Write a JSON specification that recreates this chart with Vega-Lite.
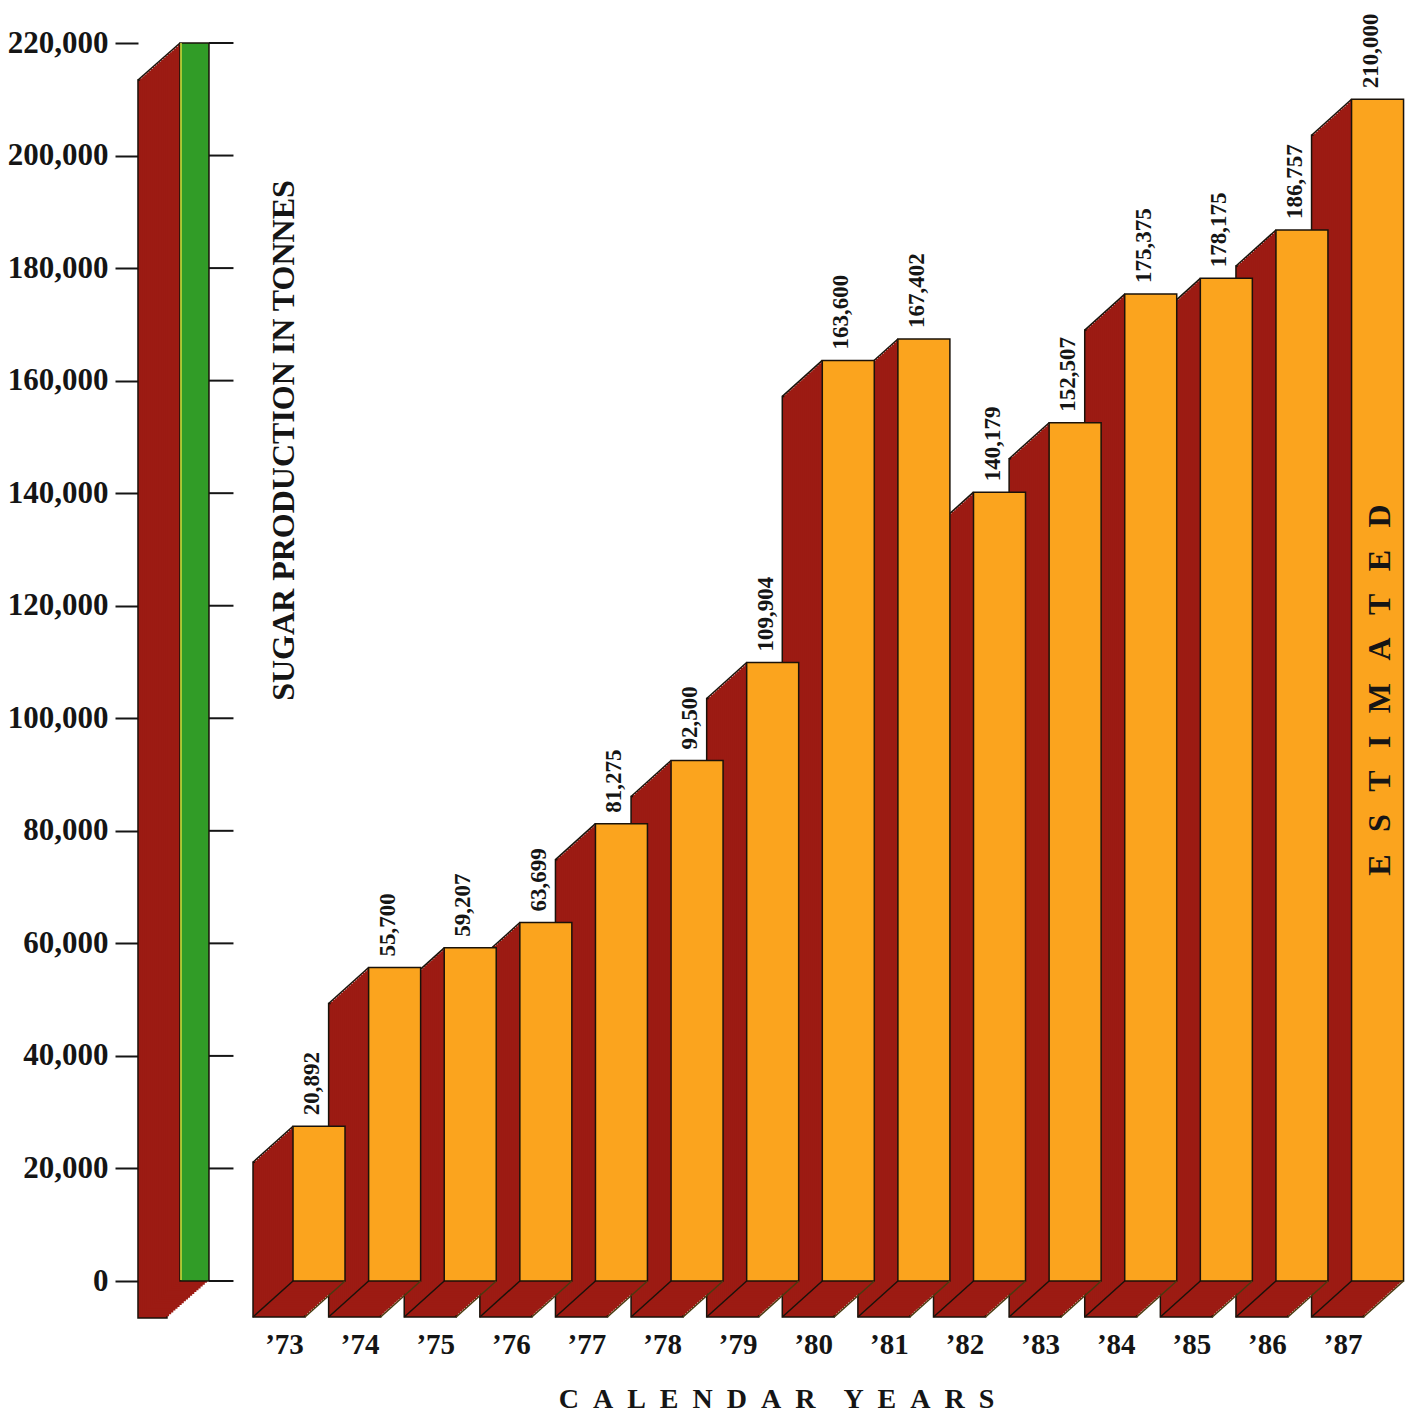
{
"$schema": "https://vega.github.io/schema/vega-lite/v6.json",
"width": 1276, "height": 1238,
"autosize": {"type": "none"},
"padding": {"left": 138, "top": 43, "right": 0, "bottom": 133},
"background": "white",
"config": {"view": {"stroke": null}, "font": "Liberation Serif"},
"datasets": {
 "bars": [
  {"year": 1973, "tonnes": 20892, "bar": 27500},
  {"year": 1974, "tonnes": 55700, "bar": 55700},
  {"year": 1975, "tonnes": 59207, "bar": 59207},
  {"year": 1976, "tonnes": 63699, "bar": 63699},
  {"year": 1977, "tonnes": 81275, "bar": 81275},
  {"year": 1978, "tonnes": 92500, "bar": 92500},
  {"year": 1979, "tonnes": 109904, "bar": 109904},
  {"year": 1980, "tonnes": 163600, "bar": 163600},
  {"year": 1981, "tonnes": 167402, "bar": 167402},
  {"year": 1982, "tonnes": 140179, "bar": 140179},
  {"year": 1983, "tonnes": 152507, "bar": 152507},
  {"year": 1984, "tonnes": 175375, "bar": 175375},
  {"year": 1985, "tonnes": 178175, "bar": 178175},
  {"year": 1986, "tonnes": 186757, "bar": 186757},
  {"year": 1987, "tonnes": 210000, "bar": 210000}
 ],
 "pillar": [{"top": 220000}],
 "ticks": [{"v": 0}, {"v": 20000}, {"v": 40000}, {"v": 60000}, {"v": 80000}, {"v": 100000}, {"v": 120000}, {"v": 140000}, {"v": 160000}, {"v": 180000}, {"v": 200000}, {"v": 220000}]
},
"layer": [
 {
  "data": {"name": "pillar"},
  "encoding": {
   "x": {"datum": 1971.353, "type": "quantitative", "scale": {"domain": [1970.606, 1987.482], "nice": false, "zero": false},
         "axis": {"values": [1973,1974,1975,1976,1977,1978,1979,1980,1981,1982,1983,1984,1985,1986,1987], "labelExpr": "'’' + slice(format(datum.value, 'd'), 2)",
                  "labelFont": "Liberation Serif", "labelFontSize": 29, "labelFontWeight": "bold", "labelColor": "#151515", "labelBaseline": "alphabetic", "labelAlign": "center",
                  "labelPadding": 72, "labelOffset": -35, "ticks": false, "tickSize": 0, "domain": false, "grid": false, "labelFlush": false, "labelOverlap": false,
                  "title": "C\u2002A\u2002L\u2002E\u2002N\u2002D\u2002A\u2002R\u2002\u2002Y\u2002E\u2002A\u2002R\u2002S", "titleFont": "Liberation Serif", "titleFontSize": 28, "titleFontWeight": "bold", "titleColor": "#151515", "titleY": 126, "titleBaseline": "alphabetic"}},
   "y": {"field": "top", "type": "quantitative", "scale": {"domain": [0, 220000], "nice": false, "zero": true},
         "axis": {"orient": "left", "values": [0,20000,40000,60000,80000,100000,120000,140000,160000,180000,200000,220000], "labelExpr": "format(datum.value, ',')",
                  "labelFont": "Liberation Serif", "labelFontSize": 31, "labelFontWeight": "bold", "labelColor": "#151515", "labelPadding": 7,
                  "tickSize": 23, "tickWidth": 2, "tickColor": "#151515", "domain": false, "grid": false, "labelFlush": false,
                  "title": "SUGAR PRODUCTION IN TONNES", "titleFont": "Liberation Serif", "titleFontSize": 32, "titleFontWeight": "bold", "titleColor": "#151515",
                  "titleX": 155, "titleY": 397, "titleAngle": 270, "titleAlign": "center", "titleBaseline": "alphabetic"}}
  },
  "layer": [
   {
    "encoding": {"x2": {"datum": 1971.353}, "y2": {"datum": 0}},
    "layer": [
     {"mark": {"type": "rect", "fill": "#9c1b13", "stroke": "#1a120a", "strokeWidth": 1.5, "xOffset": -56.5, "x2Offset": -27.5, "yOffset": 37, "y2Offset": 37}},
     {"mark": {"type": "rect", "fill": "#9c1b13", "xOffset": -54.4, "x2Offset": -25.4, "yOffset": 35.15, "y2Offset": 35.15}},
     {"mark": {"type": "rect", "fill": "#9c1b13", "xOffset": -52.3, "x2Offset": -23.3, "yOffset": 33.3, "y2Offset": 33.3}},
     {"mark": {"type": "rect", "fill": "#9c1b13", "xOffset": -50.2, "x2Offset": -21.2, "yOffset": 31.45, "y2Offset": 31.45}},
     {"mark": {"type": "rect", "fill": "#9c1b13", "xOffset": -48.1, "x2Offset": -19.1, "yOffset": 29.6, "y2Offset": 29.6}},
     {"mark": {"type": "rect", "fill": "#9c1b13", "xOffset": -46, "x2Offset": -17, "yOffset": 27.75, "y2Offset": 27.75}},
     {"mark": {"type": "rect", "fill": "#9c1b13", "xOffset": -43.9, "x2Offset": -14.9, "yOffset": 25.9, "y2Offset": 25.9}},
     {"mark": {"type": "rect", "fill": "#9c1b13", "xOffset": -41.8, "x2Offset": -12.8, "yOffset": 24.05, "y2Offset": 24.05}},
     {"mark": {"type": "rect", "fill": "#9c1b13", "xOffset": -39.7, "x2Offset": -10.7, "yOffset": 22.2, "y2Offset": 22.2}},
     {"mark": {"type": "rect", "fill": "#9c1b13", "xOffset": -37.6, "x2Offset": -8.6, "yOffset": 20.35, "y2Offset": 20.35}},
     {"mark": {"type": "rect", "fill": "#9c1b13", "xOffset": -35.5, "x2Offset": -6.5, "yOffset": 18.5, "y2Offset": 18.5}},
     {"mark": {"type": "rect", "fill": "#9c1b13", "xOffset": -33.4, "x2Offset": -4.4, "yOffset": 16.65, "y2Offset": 16.65}},
     {"mark": {"type": "rect", "fill": "#9c1b13", "xOffset": -31.3, "x2Offset": -2.3, "yOffset": 14.8, "y2Offset": 14.8}},
     {"mark": {"type": "rect", "fill": "#9c1b13", "xOffset": -29.2, "x2Offset": -0.2, "yOffset": 12.95, "y2Offset": 12.95}},
     {"mark": {"type": "rect", "fill": "#9c1b13", "xOffset": -27.1, "x2Offset": 1.9, "yOffset": 11.1, "y2Offset": 11.1}},
     {"mark": {"type": "rect", "fill": "#9c1b13", "xOffset": -25, "x2Offset": 4, "yOffset": 9.25, "y2Offset": 9.25}},
     {"mark": {"type": "rect", "fill": "#9c1b13", "xOffset": -22.9, "x2Offset": 6.1, "yOffset": 7.4, "y2Offset": 7.4}},
     {"mark": {"type": "rect", "fill": "#9c1b13", "xOffset": -20.8, "x2Offset": 8.2, "yOffset": 5.55, "y2Offset": 5.55}},
     {"mark": {"type": "rect", "fill": "#9c1b13", "xOffset": -18.7, "x2Offset": 10.3, "yOffset": 3.7, "y2Offset": 3.7}},
     {"mark": {"type": "rect", "fill": "#9c1b13", "xOffset": -16.6, "x2Offset": 12.4, "yOffset": 1.85, "y2Offset": 1.85}}
    ]
   },
   {"mark": {"type": "rule", "color": "#1a120a", "strokeWidth": 1.5, "xOffset": -14.5, "x2Offset": -56.5, "y2Offset": 37},
    "encoding": {"x2": {"datum": 1971.353}, "y2": {"field": "top"}}},
   {"mark": {"type": "rect", "fill": "#319c27", "stroke": "#1a120a", "strokeWidth": 1.5, "xOffset": -14.5, "x2Offset": 14.5},
    "encoding": {"x2": {"datum": 1971.353}, "y2": {"datum": 0}}},
   {"mark": {"type": "rule", "color": "#d8dc3c", "strokeWidth": 1.5, "xOffset": -13.5, "x2Offset": -13.5, "y2Offset": -1},
    "encoding": {"x2": {"datum": 1971.353}, "y2": {"datum": 0}}}
  ]
 },
 {
  "data": {"name": "bars"},
  "encoding": {
   "x": {"field": "year", "type": "quantitative", "scale": {"domain": [1970.606, 1987.482], "nice": false, "zero": false},
         "axis": {"values": [1973,1974,1975,1976,1977,1978,1979,1980,1981,1982,1983,1984,1985,1986,1987], "labelExpr": "'’' + slice(format(datum.value, 'd'), 2)",
                  "labelFont": "Liberation Serif", "labelFontSize": 29, "labelFontWeight": "bold", "labelColor": "#151515", "labelBaseline": "alphabetic", "labelAlign": "center",
                  "labelPadding": 72, "labelOffset": -35, "ticks": false, "tickSize": 0, "domain": false, "grid": false, "labelFlush": false, "labelOverlap": false,
                  "title": "C\u2002A\u2002L\u2002E\u2002N\u2002D\u2002A\u2002R\u2002\u2002Y\u2002E\u2002A\u2002R\u2002S", "titleFont": "Liberation Serif", "titleFontSize": 28, "titleFontWeight": "bold", "titleColor": "#151515", "titleY": 126, "titleBaseline": "alphabetic"}},
   "y": {"field": "bar", "type": "quantitative", "scale": {"domain": [0, 220000], "nice": false, "zero": true},
         "axis": {"orient": "left", "values": [0,20000,40000,60000,80000,100000,120000,140000,160000,180000,200000,220000], "labelExpr": "format(datum.value, ',')",
                  "labelFont": "Liberation Serif", "labelFontSize": 31, "labelFontWeight": "bold", "labelColor": "#151515", "labelPadding": 7,
                  "tickSize": 23, "tickWidth": 2, "tickColor": "#151515", "domain": false, "grid": false, "labelFlush": false,
                  "title": "SUGAR PRODUCTION IN TONNES", "titleFont": "Liberation Serif", "titleFontSize": 32, "titleFontWeight": "bold", "titleColor": "#151515",
                  "titleX": 155, "titleY": 397, "titleAngle": 270, "titleAlign": "center", "titleBaseline": "alphabetic"}}
  },
  "layer": [
   {
    "encoding": {"x2": {"field": "year"}, "y2": {"datum": 0}},
    "layer": [
     {"mark": {"type": "rect", "fill": "#9c1b13", "stroke": "#1a120a", "strokeWidth": 1.5, "xOffset": -66, "x2Offset": -14, "yOffset": 36, "y2Offset": 36}},
     {"mark": {"type": "rect", "fill": "#9c1b13", "xOffset": -64, "x2Offset": -12, "yOffset": 34.2, "y2Offset": 34.2}},
     {"mark": {"type": "rect", "fill": "#9c1b13", "xOffset": -62, "x2Offset": -10, "yOffset": 32.4, "y2Offset": 32.4}},
     {"mark": {"type": "rect", "fill": "#9c1b13", "xOffset": -60, "x2Offset": -8, "yOffset": 30.6, "y2Offset": 30.6}},
     {"mark": {"type": "rect", "fill": "#9c1b13", "xOffset": -58, "x2Offset": -6, "yOffset": 28.8, "y2Offset": 28.8}},
     {"mark": {"type": "rect", "fill": "#9c1b13", "xOffset": -56, "x2Offset": -4, "yOffset": 27, "y2Offset": 27}},
     {"mark": {"type": "rect", "fill": "#9c1b13", "xOffset": -54, "x2Offset": -2, "yOffset": 25.2, "y2Offset": 25.2}},
     {"mark": {"type": "rect", "fill": "#9c1b13", "xOffset": -52, "x2Offset": 0, "yOffset": 23.4, "y2Offset": 23.4}},
     {"mark": {"type": "rect", "fill": "#9c1b13", "xOffset": -50, "x2Offset": 2, "yOffset": 21.6, "y2Offset": 21.6}},
     {"mark": {"type": "rect", "fill": "#9c1b13", "xOffset": -48, "x2Offset": 4, "yOffset": 19.8, "y2Offset": 19.8}},
     {"mark": {"type": "rect", "fill": "#9c1b13", "xOffset": -46, "x2Offset": 6, "yOffset": 18, "y2Offset": 18}},
     {"mark": {"type": "rect", "fill": "#9c1b13", "xOffset": -44, "x2Offset": 8, "yOffset": 16.2, "y2Offset": 16.2}},
     {"mark": {"type": "rect", "fill": "#9c1b13", "xOffset": -42, "x2Offset": 10, "yOffset": 14.4, "y2Offset": 14.4}},
     {"mark": {"type": "rect", "fill": "#9c1b13", "xOffset": -40, "x2Offset": 12, "yOffset": 12.6, "y2Offset": 12.6}},
     {"mark": {"type": "rect", "fill": "#9c1b13", "xOffset": -38, "x2Offset": 14, "yOffset": 10.8, "y2Offset": 10.8}},
     {"mark": {"type": "rect", "fill": "#9c1b13", "xOffset": -36, "x2Offset": 16, "yOffset": 9, "y2Offset": 9}},
     {"mark": {"type": "rect", "fill": "#9c1b13", "xOffset": -34, "x2Offset": 18, "yOffset": 7.2, "y2Offset": 7.2}},
     {"mark": {"type": "rect", "fill": "#9c1b13", "xOffset": -32, "x2Offset": 20, "yOffset": 5.4, "y2Offset": 5.4}},
     {"mark": {"type": "rect", "fill": "#9c1b13", "xOffset": -30, "x2Offset": 22, "yOffset": 3.6, "y2Offset": 3.6}},
     {"mark": {"type": "rect", "fill": "#9c1b13", "xOffset": -28, "x2Offset": 24, "yOffset": 1.8, "y2Offset": 1.8}}
    ]
   },
   {"mark": {"type": "rule", "color": "#1a120a", "strokeWidth": 1.5, "xOffset": -26, "x2Offset": -66, "y2Offset": 36},
    "encoding": {"x2": {"field": "year"}, "y2": {"field": "bar"}}},
   {"mark": {"type": "rect", "fill": "#fba41e", "stroke": "#1a120a", "strokeWidth": 1.5, "xOffset": -26, "x2Offset": 26},
    "encoding": {"x2": {"field": "year"}, "y2": {"datum": 0}}},
   {
    "mark": {"type": "text", "angle": 270, "align": "left", "baseline": "alphabetic", "dx": 11, "dy": 0, "font": "Liberation Serif", "fontSize": 23, "fontWeight": "bold", "color": "#151515"},
    "encoding": {"text": {"field": "tonnes", "type": "quantitative", "format": ","}}
   }
  ]
 },
 {
  "data": {"name": "bars"},
  "encoding": {
   "x": {"field": "year", "type": "quantitative", "scale": {"domain": [1970.606, 1987.482], "nice": false, "zero": false},
         "axis": {"values": [1973,1974,1975,1976,1977,1978,1979,1980,1981,1982,1983,1984,1985,1986,1987], "labelExpr": "'’' + slice(format(datum.value, 'd'), 2)",
                  "labelFont": "Liberation Serif", "labelFontSize": 29, "labelFontWeight": "bold", "labelColor": "#151515", "labelBaseline": "alphabetic", "labelAlign": "center",
                  "labelPadding": 72, "labelOffset": -35, "ticks": false, "tickSize": 0, "domain": false, "grid": false, "labelFlush": false, "labelOverlap": false,
                  "title": "C\u2002A\u2002L\u2002E\u2002N\u2002D\u2002A\u2002R\u2002\u2002Y\u2002E\u2002A\u2002R\u2002S", "titleFont": "Liberation Serif", "titleFontSize": 28, "titleFontWeight": "bold", "titleColor": "#151515", "titleY": 126, "titleBaseline": "alphabetic"}},
   "y": {"datum": 0, "type": "quantitative", "scale": {"domain": [0, 220000], "nice": false, "zero": true},
         "axis": {"orient": "left", "values": [0,20000,40000,60000,80000,100000,120000,140000,160000,180000,200000,220000], "labelExpr": "format(datum.value, ',')",
                  "labelFont": "Liberation Serif", "labelFontSize": 31, "labelFontWeight": "bold", "labelColor": "#151515", "labelPadding": 7,
                  "tickSize": 23, "tickWidth": 2, "tickColor": "#151515", "domain": false, "grid": false, "labelFlush": false,
                  "title": "SUGAR PRODUCTION IN TONNES", "titleFont": "Liberation Serif", "titleFontSize": 32, "titleFontWeight": "bold", "titleColor": "#151515",
                  "titleX": 155, "titleY": 397, "titleAngle": 270, "titleAlign": "center", "titleBaseline": "alphabetic"}},
   "x2": {"field": "year"},
   "y2": {"datum": 0}
  },
  "layer": [
   {"mark": {"type": "rule", "color": "#1a120a", "strokeWidth": 1.5, "xOffset": -26, "x2Offset": -66, "y2Offset": 36}},
   {"mark": {"type": "rule", "color": "#4a3a10", "strokeWidth": 1.5, "xOffset": 26, "x2Offset": -14, "y2Offset": 36}}
  ]
 },
 {
  "data": {"name": "pillar"},
  "encoding": {
   "x": {"datum": 1971.353, "type": "quantitative", "scale": {"domain": [1970.606, 1987.482], "nice": false, "zero": false},
         "axis": {"values": [1973,1974,1975,1976,1977,1978,1979,1980,1981,1982,1983,1984,1985,1986,1987], "labelExpr": "'’' + slice(format(datum.value, 'd'), 2)",
                  "labelFont": "Liberation Serif", "labelFontSize": 29, "labelFontWeight": "bold", "labelColor": "#151515", "labelBaseline": "alphabetic", "labelAlign": "center",
                  "labelPadding": 72, "labelOffset": -35, "ticks": false, "tickSize": 0, "domain": false, "grid": false, "labelFlush": false, "labelOverlap": false,
                  "title": "C\u2002A\u2002L\u2002E\u2002N\u2002D\u2002A\u2002R\u2002\u2002Y\u2002E\u2002A\u2002R\u2002S", "titleFont": "Liberation Serif", "titleFontSize": 28, "titleFontWeight": "bold", "titleColor": "#151515", "titleY": 126, "titleBaseline": "alphabetic"}},
   "y": {"field": "v", "type": "quantitative", "scale": {"domain": [0, 220000], "nice": false, "zero": true},
         "axis": {"orient": "left", "values": [0,20000,40000,60000,80000,100000,120000,140000,160000,180000,200000,220000], "labelExpr": "format(datum.value, ',')",
                  "labelFont": "Liberation Serif", "labelFontSize": 31, "labelFontWeight": "bold", "labelColor": "#151515", "labelPadding": 7,
                  "tickSize": 23, "tickWidth": 2, "tickColor": "#151515", "domain": false, "grid": false, "labelFlush": false,
                  "title": "SUGAR PRODUCTION IN TONNES", "titleFont": "Liberation Serif", "titleFontSize": 32, "titleFontWeight": "bold", "titleColor": "#151515",
                  "titleX": 155, "titleY": 397, "titleAngle": 270, "titleAlign": "center", "titleBaseline": "alphabetic"}},
   "x2": {"datum": 1971.353}
  },
  "layer": [
   {"data": {"name": "pillar"},
    "mark": {"type": "rule", "color": "#1a120a", "strokeWidth": 1.5, "xOffset": -14.5, "x2Offset": -56.5, "yOffset": 0, "y2Offset": 37},
    "encoding": {"y": {"datum": 0, "type": "quantitative"}, "y2": {"datum": 0}}},
   {"data": {"name": "pillar"},
    "mark": {"type": "rule", "color": "#c9c93a", "strokeWidth": 1.5, "xOffset": 14.5, "x2Offset": -27.5, "y2Offset": 37},
    "encoding": {"y": {"datum": 0, "type": "quantitative"}, "y2": {"datum": 0}}},
   {"data": {"name": "ticks"},
    "mark": {"type": "rule", "color": "#151515", "strokeWidth": 2, "xOffset": 14.5, "x2Offset": 39},
    "encoding": {"y2": {"field": "v"}}}
  ]
 },
 {
  "data": {"values": [{"year": 1987, "note": "E\u2002\u2009S\u2002\u2009T\u2002\u2009I\u2002\u2009M\u2002\u2009A\u2002\u2009T\u2002\u2009E\u2002\u2009D"}]},
  "mark": {"type": "text", "angle": 270, "align": "center", "baseline": "alphabetic", "dy": 12.5, "font": "Liberation Serif", "fontSize": 32, "fontWeight": "bold", "color": "#151515"},
  "encoding": {
   "x": {"field": "year", "type": "quantitative", "scale": {"domain": [1970.606, 1987.482], "nice": false, "zero": false},
         "axis": {"values": [1973,1974,1975,1976,1977,1978,1979,1980,1981,1982,1983,1984,1985,1986,1987], "labelExpr": "'’' + slice(format(datum.value, 'd'), 2)",
                  "labelFont": "Liberation Serif", "labelFontSize": 29, "labelFontWeight": "bold", "labelColor": "#151515", "labelBaseline": "alphabetic", "labelAlign": "center",
                  "labelPadding": 72, "labelOffset": -35, "ticks": false, "tickSize": 0, "domain": false, "grid": false, "labelFlush": false, "labelOverlap": false,
                  "title": "C\u2002A\u2002L\u2002E\u2002N\u2002D\u2002A\u2002R\u2002\u2002Y\u2002E\u2002A\u2002R\u2002S", "titleFont": "Liberation Serif", "titleFontSize": 28, "titleFontWeight": "bold", "titleColor": "#151515", "titleY": 126, "titleBaseline": "alphabetic"}},
   "y": {"datum": 105000, "type": "quantitative", "scale": {"domain": [0, 220000], "nice": false, "zero": true},
         "axis": {"orient": "left", "values": [0,20000,40000,60000,80000,100000,120000,140000,160000,180000,200000,220000], "labelExpr": "format(datum.value, ',')",
                  "labelFont": "Liberation Serif", "labelFontSize": 31, "labelFontWeight": "bold", "labelColor": "#151515", "labelPadding": 7,
                  "tickSize": 23, "tickWidth": 2, "tickColor": "#151515", "domain": false, "grid": false, "labelFlush": false,
                  "title": "SUGAR PRODUCTION IN TONNES", "titleFont": "Liberation Serif", "titleFontSize": 32, "titleFontWeight": "bold", "titleColor": "#151515",
                  "titleX": 155, "titleY": 397, "titleAngle": 270, "titleAlign": "center", "titleBaseline": "alphabetic"}},
   "text": {"field": "note"}
  }
 }
]
}
